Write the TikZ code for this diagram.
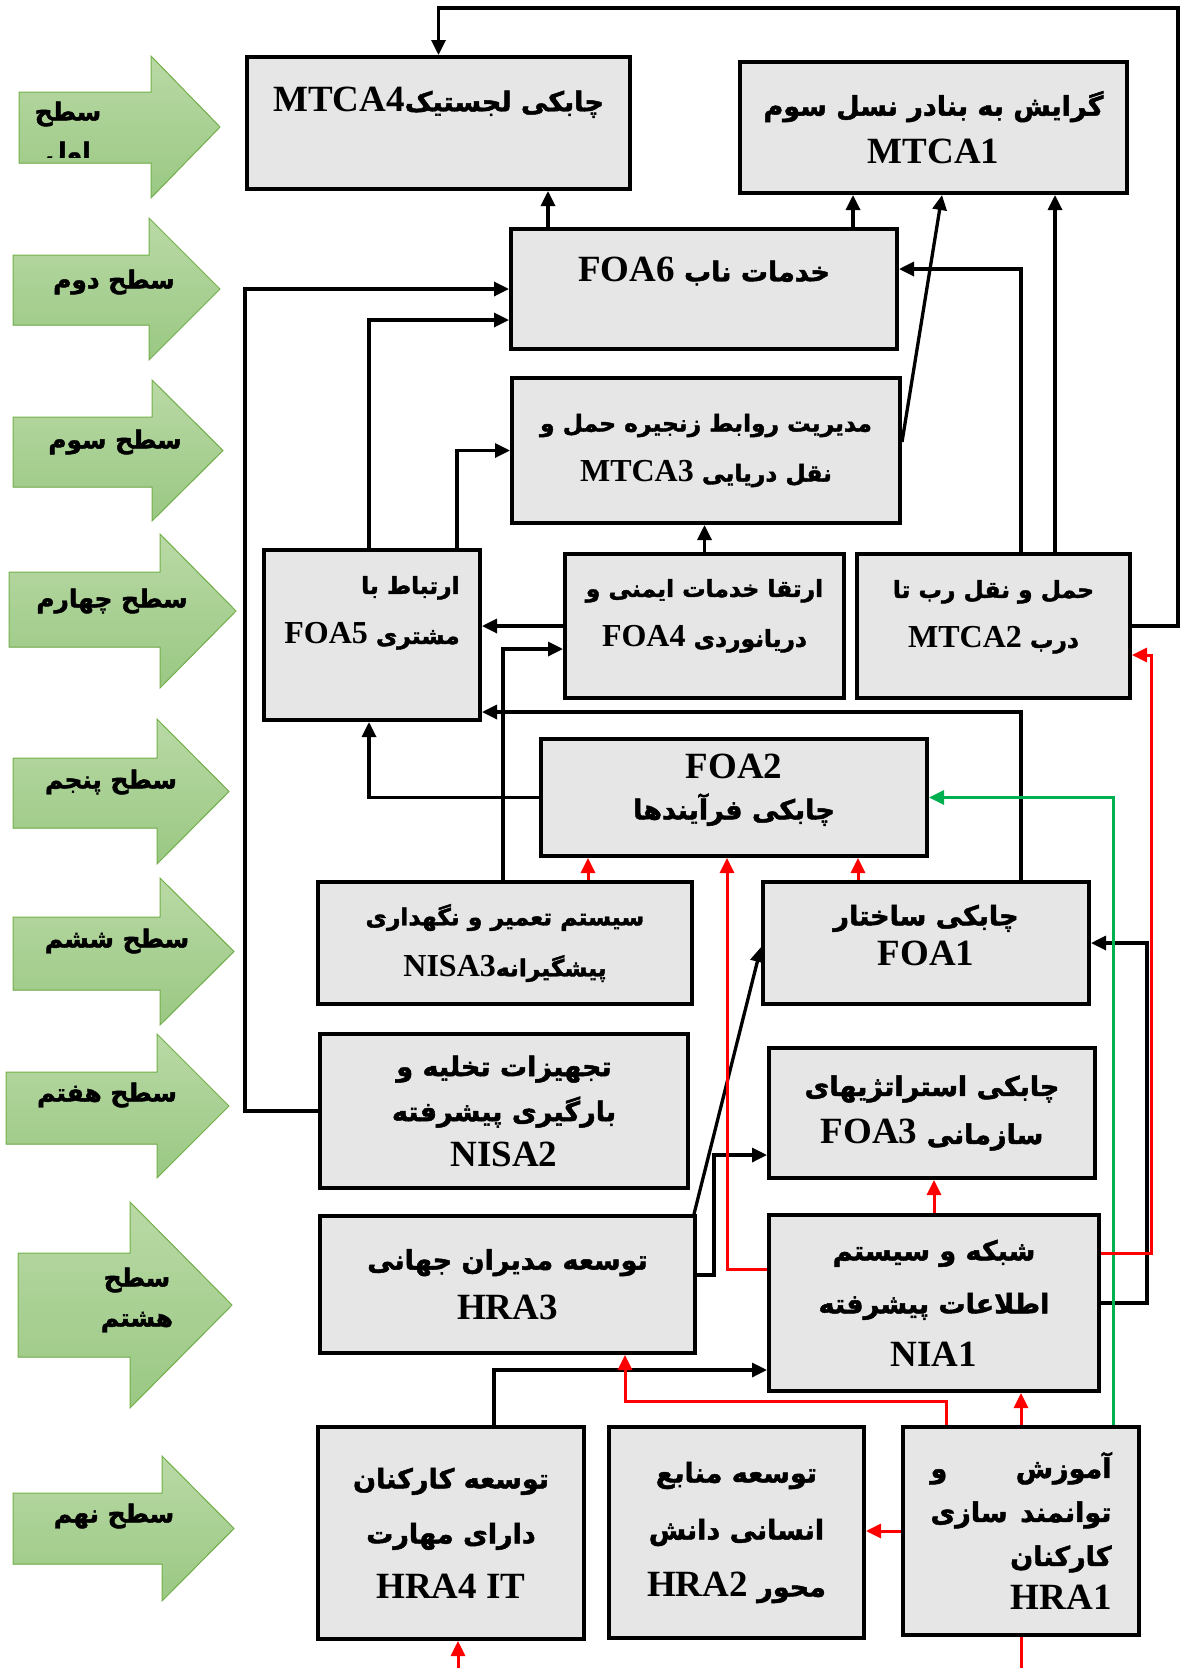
\documentclass[tikz,border=0pt]{standalone}
\usepackage{fontspec}
\setmainfont{Liberation Serif}
\newfontfamily\arabicfont[Script=Arabic,Scale=0.73,BoldFeatures={FakeBold=1.8}]{DejaVu Sans}
\TeXXeTstate=1
\usetikzlibrary{arrows.meta}

\definecolor{boxgray}{HTML}{E6E6E6}
\definecolor{lvltop}{HTML}{B9D9A5}
\definecolor{lvlbot}{HTML}{9AC883}
\definecolor{lvlline}{HTML}{73B04A}
\definecolor{grn}{HTML}{00B050}

\newcommand\ar[1]{{\arabicfont\beginR #1\endR}}
\newcommand\lat[1]{\beginL{\rmfamily #1}\endL}

\tikzset{
    box/.style={draw, fill=boxgray, line width=4pt, inner sep=0pt, align=center,
        font=\bfseries\fontsize{37}{48}\selectfont},
    sz/.style 2 args={minimum width=#1pt, minimum height=#2pt},
    smalltxt/.style={font=\bfseries\fontsize{32}{50}\selectfont},
    arr/.style={line width=3.3pt, -{Triangle[length=15pt,width=14pt]}},
    redarr/.style={arr, line width=3pt, red},
    grnarr/.style={arr, line width=3pt, grn},
    level/.style={draw=lvlline, line width=1pt, top color=lvltop, bottom color=lvlbot},
    lvltxt/.style={inner sep=0pt, align=center, font=\bfseries\fontsize{34}{40}\selectfont}
}

\begin{document}
\begin{tikzpicture}[x=1pt, y=-1pt]
    \useasboundingbox (0,0) rectangle (1179,1668);

    % levels
    \filldraw[level] (19,92) -- (151,92) -- (151,56) -- (220,127) -- (151,198) -- (151,163) -- (19,163) -- cycle;
    \filldraw[level] (13,255) -- (149,255) -- (149,218) -- (220,289) -- (149,360) -- (149,325) -- (13,325) -- cycle;
    \filldraw[level] (13,417) -- (152,417) -- (152,380) -- (223,450.5) -- (152,521) -- (152,487) -- (13,487) -- cycle;
    \filldraw[level] (9,572) -- (160,572) -- (160,534) -- (236,611) -- (160,688) -- (160,647) -- (9,647) -- cycle;
    \filldraw[level] (13,758) -- (157,758) -- (157,719) -- (229,791.5) -- (157,864) -- (157,828) -- (13,828) -- cycle;
    \filldraw[level] (13,917) -- (160,917) -- (160,878) -- (234,951.5) -- (160,1025) -- (160,990) -- (13,990) -- cycle;
    \filldraw[level] (6,1072) -- (157,1072) -- (157,1034) -- (229,1106) -- (157,1178) -- (157,1144) -- (6,1144) -- cycle;
    \filldraw[level] (18,1253) -- (130,1253) -- (130,1202) -- (232,1305) -- (130,1408) -- (130,1357) -- (18,1357) -- cycle;
    \filldraw[level] (13,1493) -- (162,1493) -- (162,1456) -- (234,1528.5) -- (162,1601) -- (162,1564) -- (13,1564) -- cycle;

    \begin{scope}
        \clip (19,92) rectangle (151,157);
        \node[lvltxt] (lvl1) at (68,134) {\ar{سطح}\\\ar{اول}};
    \end{scope}
    \path node[lvltxt] (lvl2) at (114,282) {\ar{سطح دوم}}
        node[lvltxt] (lvl3) at (115,442) {\ar{سطح سوم}}
        node[lvltxt] (lvl4) at (112,601) {\ar{سطح چهارم}}
        node[lvltxt] (lvl5) at (111,782) {\ar{سطح پنجم}}
        node[lvltxt] (lvl6) at (117,941) {\ar{سطح ششم}}
        node[lvltxt] (lvl7) at (107,1095) {\ar{سطح هفتم}}
        node[lvltxt] (lvl8) at (137,1300) {\ar{سطح}\\\ar{هشتم}}
        node[lvltxt] (lvl9) at (114,1516) {\ar{سطح نهم}};

    % boxes
    \path node[box, sz={383}{132}] (MTCA4) at (438.5,123) {\ar{چابکی لجستیک\lat{MTCA4}}\\[0pt]\mbox{}}
        node[box, sz={387}{131}] (MTCA1) at (933.5,127.5) {\ar{گرایش به بنادر نسل سوم}\\MTCA1}
        node[box, sz={386}{120}] (FOA6) at (704,289) {\ar{خدمات ناب \lat{FOA6}}\\[-8pt]\mbox{}}
        node[box, smalltxt, sz={388}{145}] (MTCA3) at (706,450.5) {\ar{مدیریت روابط زنجیره حمل و}\\\ar{نقل دریایی \lat{MTCA3}}}
        node[box, smalltxt, align=right, sz={216}{170}] (FOA5) at (372,635) {\ar{ارتباط با}\\\ar{مشتری \lat{FOA5}}\\[0pt]\mbox{}}
        node[box, smalltxt, sz={279}{144}] (FOA4) at (704.5,626) {\ar{ارتقا خدمات ایمنی و}\\\ar{دریانوردی \lat{FOA4}}\\[-24pt]\mbox{}}
        node[box, smalltxt, sz={273}{144}] (MTCA2) at (993.5,626) {\ar{حمل و نقل رب تا}\\\ar{درب \lat{MTCA2}}\\[-26pt]\mbox{}}
        node[box, font=\bfseries\fontsize{37}{41}\selectfont, sz={386}{117}] (FOA2) at (734,797.5) {FOA2\\\ar{چابکی فرآیندها}\\[-19pt]\mbox{}}
        node[box, font=\bfseries\fontsize{32}{51}\selectfont, sz={374}{122}] (NISA3) at (505,943) {\ar{سیستم تعمیر و نگهداری}\\\ar{پیشگیرانه\lat{NISA3}}}
        node[box, font=\bfseries\fontsize{37}{40}\selectfont, sz={326}{122}] (FOA1) at (926,943) {\ar{چابکی ساختار}\\FOA1\\[-24pt]\mbox{}}
        node[box, font=\bfseries\fontsize{37}{45}\selectfont, sz={368}{154}] (NISA2) at (504,1111) {\ar{تجهیزات تخلیه و}\\\ar{بارگیری پیشرفته}\\NISA2}
        node[box, sz={326}{130}] (FOA3) at (932,1113) {\ar{چابکی استراتژیهای}\\\ar{سازمانی \lat{FOA3}}}
        node[box, font=\bfseries\fontsize{37}{50}\selectfont, sz={375}{137}] (HRA3) at (507.5,1284.5) {\ar{توسعه مدیران جهانی}\\HRA3}
        node[box, font=\bfseries\fontsize{37}{53}\selectfont, sz={330}{176}] (NIA1) at (934,1303) {\ar{شبکه و سیستم}\\\ar{اطلاعات پیشرفته}\\NIA1}
        node[box, font=\bfseries\fontsize{37}{55}\selectfont, sz={266}{212}] (HRA4) at (451,1533) {\ar{توسعه کارکنان}\\\ar{دارای مهارت}\\HRA4 IT}
        node[box, font=\bfseries\fontsize{37}{57}\selectfont, sz={255}{211}] (HRA2) at (736.5,1532.5) {\ar{توسعه منابع}\\\ar{انسانی دانش}\\\ar{محور \lat{HRA2}}}
        node[box, font=\bfseries\fontsize{37}{44}\selectfont, align=right, text width=181pt, sz={236}{208}] (HRA1) at (1021,1531) {\ar{آموزش\hfill و}\\\ar{توانمند\hfill سازی}\\\ar{کارکنان}\\HRA1};

    % black links
    \draw[arr] (MTCA2.east) -- ++(46pt,0pt) |- ([yshift=47pt]MTCA4.north) -- (MTCA4.north);
    \draw[arr] ([xshift=-156pt]FOA6.north) -- ([xshift=-156pt]FOA6.north |- MTCA4.south);
    \draw[arr] ([xshift=149pt]FOA6.north) -- ([xshift=149pt]FOA6.north |- MTCA1.south);
    \draw[arr] ([yshift=8.5pt]MTCA3.east) -- ([xshift=8.5pt]MTCA1.south);
    \draw[arr] ([xshift=61.5pt]MTCA2.north) -- ([xshift=61.5pt]MTCA2.north |- MTCA1.south);
    \draw[arr] ([xshift=27.5pt]MTCA2.north) |- ([yshift=20pt]FOA6.east);
    \draw[arr] (NISA2.west) -- ++(-73pt,0pt) |- (FOA6.west);
    \draw[arr] ([xshift=-3pt]FOA5.north) |- ([yshift=-31pt]FOA6.west);
    \draw[arr] ([xshift=85pt]FOA5.north) |- (MTCA3.west);
    \draw[arr] (FOA4.north) -- (FOA4.north |- MTCA3.south);
    \draw[arr] (FOA4.west) -- (FOA4.west -| FOA5.east);
    \draw[arr] ([xshift=-2pt]NISA3.north) |- ([yshift=-23pt]FOA4.west);
    \draw[arr] ([xshift=95pt]FOA1.north) |- ([yshift=-77pt]FOA5.east);
    \draw[arr] (FOA2.west) -| ([xshift=-3pt]FOA5.south);
    \draw[arr] ([xshift=-3pt]HRA3.north east) -- ([yshift=-4pt]FOA1.west);
    \draw[arr] ([yshift=9.5pt]HRA3.east) -- ++(17pt,0pt) |- ([yshift=-42pt]FOA3.west);
    \draw[arr] (NIA1.east) -- ++(46pt,0pt) |- (FOA1.east);
    \draw[arr] ([xshift=43pt]HRA4.north) |- ([yshift=-67pt]NIA1.west);

    % red and green links
    \draw[grnarr] ([xshift=92pt]HRA1.north) |- (FOA2.east);
    \draw[redarr] ([xshift=83pt]NISA3.north) -- ([xshift=83pt]NISA3.north |- FOA2.south);
    \draw[redarr] ([yshift=34pt]NIA1.west) -| ([xshift=-7pt]FOA2.south);
    \draw[redarr] ([xshift=-68pt]FOA1.north) -- ([xshift=-68pt]FOA1.north |- FOA2.south);
    \draw[redarr] ([yshift=50pt]NIA1.east) -- ++(50pt,0pt) |- ([yshift=-29pt]MTCA2.east);
    \draw[redarr] (NIA1.north) -- (NIA1.north |- FOA3.south);
    \draw[redarr] ([xshift=-75pt]HRA1.north) -- ++(0pt,24pt) -| ([xshift=117.5pt]HRA3.south);
    \draw[redarr] (HRA1.north) -- (HRA1.north |- NIA1.south);
    \draw[redarr] (HRA1.west) -- (HRA1.west -| HRA2.east);
    \draw[redarr] (HRA1.south) -- ++(0pt,-32pt) -| ([xshift=7pt]HRA4.south);
\end{tikzpicture}
\end{document}
